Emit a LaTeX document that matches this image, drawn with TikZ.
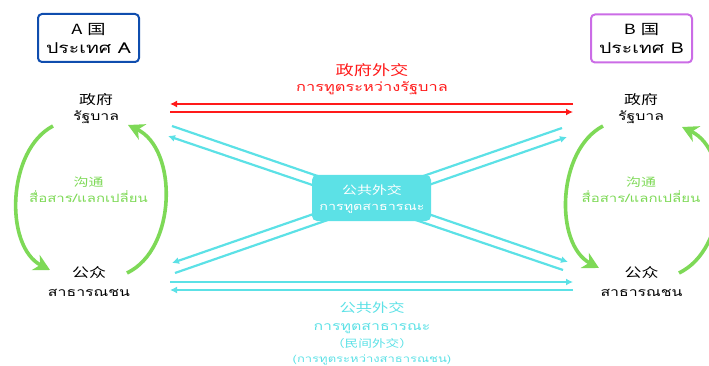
\documentclass[tikz,border=0pt]{standalone}
\usepackage{fontspec}
\usetikzlibrary{arrows.meta}
\newfontfamily\thai[Script=Thai,FakeStretch=1.3]{Loma}
\newfontfamily\cjk[FakeStretch=1.3]{Noto Sans CJK SC}
\newcommand{\fs}[1]{\fontsize{#1}{#1}\selectfont}
\definecolor{cy}{HTML}{5CE1E6}
\definecolor{rd}{HTML}{FF1A1A}
\definecolor{gr}{HTML}{7ED957}
\definecolor{bl}{HTML}{0F4DAE}
\definecolor{pu}{HTML}{CB6CE6}
\begin{document}
\begin{tikzpicture}[x=1pt,y=-1pt,
  ctry/.style={draw, line width=2pt, rounded corners=4pt, minimum width=101pt, minimum height=48pt, inner sep=0pt},
  t/.style={anchor=base, inner sep=0pt},
  cyl/.style={cy, line width=2.2pt},
  cyarr/.style={cyl, -{Latex[length=7pt,width=7pt]}},
  rdarr/.style={rd, line width=2.2pt, -{Latex[length=7pt,width=7pt]}},
  grarr/.style={gr, line width=3.6pt, -{Stealth[length=16pt,width=17pt,inset=5pt]}}
]
\useasboundingbox (0,0) rectangle (709,366);
\clip (0,0) rectangle (709,366);

% country boxes
\node[ctry, draw=bl] (boxA) at (88.5,38) {};
\node[t, font=\cjk\fs{14}] (boxA1) at (88.5,34.5) {A\hspace{5pt}国};
\node[t, font=\thai\fs{15}] (boxA2) at (88.5,54) {ประเทศ A};
\node[ctry, draw=pu] (boxB) at (641.5,38.5) {};
\node[t, font=\cjk\fs{14}] (boxB1) at (641.5,34.5) {B\hspace{5pt}国};
\node[t, font=\thai\fs{15}] (boxB2) at (641.5,54) {ประเทศ B};

% actors
\node[t, font=\cjk\fs{13}] (govA1) at (96,104.5) {政府};
\node[t, font=\thai\fs{12.2}] (govA2) at (96,121) {รัฐบาล};
\node[t, font=\cjk\fs{13}] (govB1) at (641,104.5) {政府};
\node[t, font=\thai\fs{12.2}] (govB2) at (641,121) {รัฐบาล};
\node[t, font=\cjk\fs{13}] (pubA1) at (89,277) {公众};
\node[t, font=\thai\fs{12.2}] (pubA2) at (89,296.5) {สาธารณชน};
\node[t, font=\cjk\fs{13}] (pubB1) at (641.5,277) {公众};
\node[t, font=\thai\fs{12.2}] (pubB2) at (641.5,296.5) {สาธารณชน};

% red government diplomacy
\node[t, text=rd, font=\cjk\fs{14}] (red1) at (372,75.5) {政府外交};
\node[t, text=rd, font=\thai\fs{12.6}] (red2) at (372,92) {การทูตระหว่างรัฐบาล};
\coordinate (rL1) at (170,104); \coordinate (rR1) at (573,104);
\coordinate (rL2) at (170,112); \coordinate (rR2) at (573,112);
\draw[rdarr] (rR1) -- (rL1);
\draw[rdarr] (rL2) -- (rR2);

% cyan diagonals
\coordinate (d1s) at (172,126); \coordinate (d1e) at (568,262);
\coordinate (d2s) at (563,270); \coordinate (d2e) at (168,136);
\coordinate (d3s) at (562,128); \coordinate (d3e) at (172,263);
\coordinate (d4s) at (175,273); \coordinate (d4e) at (567,137);
\draw[cyarr] (d1s) -- (d1e);
\draw[cyarr] (d2s) -- (d2e);
\draw[cyarr] (d3s) -- (d3e);
\draw[cyarr] (d4s) -- (d4e);

% cyan horizontals
\coordinate (cL1) at (170,282); \coordinate (cR1) at (573,282);
\coordinate (cL2) at (170,290); \coordinate (cR2) at (573,290);
\draw[cyarr] (cL1) -- (cR1);
\draw[cyarr] (cR2) -- (cL2);

% central box
\node[fill=cy, rounded corners=5pt, minimum width=119pt, minimum height=46pt, inner sep=0pt] (pd) at (371.5,198) {};
\node[t, text=white, font=\cjk\fs{11.5}] (pd1) at (372,194) {公共外交};
\node[t, text=white, font=\thai\fs{11}] (pd2) at (372,210.5) {การทูตสาธารณะ};

% bottom label
\node[t, text=cy, font=\cjk\fs{12.5}] (bot1) at (372,312.5) {公共外交};
\node[t, text=cy, font=\thai\fs{12.2}] (bot2) at (372,330.5) {การทูตสาธารณะ};
\node[t, text=cy, font=\cjk\fs{10.5}] (bot3) at (372,347) {（民间外交）};
\node[t, text=cy, font=\thai\fs{10}] (bot4) at (372,362.5) {(การทูตระหว่างสาธารณชน)};

% green communication arcs
\coordinate (gA1s) at (53,126); \coordinate (gA1e) at (50,270);
\coordinate (gA2s) at (127,273); \coordinate (gA2e) at (128,125);
\draw[grarr] (gA1s) .. controls (7,150) and (4,246) .. (gA1e);
\draw[grarr] (gA2s) .. controls (177,249) and (178,149) .. (gA2e);
\node[t, text=gr, font=\cjk\fs{11.5}] (comA1) at (88.5,186.5) {沟通};
\node[t, text=gr, font=\thai\fs{11.5}] (comA2) at (88.5,202.5) {สื่อสาร/แลกเปลี่ยน};

\coordinate (gB1s) at (603,126); \coordinate (gB1e) at (599,268);
\coordinate (gB2s) at (679,273); \coordinate (gB2e) at (682,127);
\draw[grarr] (gB1s) .. controls (557,150) and (554,244) .. (gB1e);
\draw[grarr] (gB2s) .. controls (729,249) and (732,151) .. (gB2e);
\node[t, text=gr, font=\cjk\fs{11.5}] (comB1) at (641,186.5) {沟通};
\node[t, text=gr, font=\thai\fs{11.5}] (comB2) at (641,202.5) {สื่อสาร/แลกเปลี่ยน};
\end{tikzpicture}
\end{document}
